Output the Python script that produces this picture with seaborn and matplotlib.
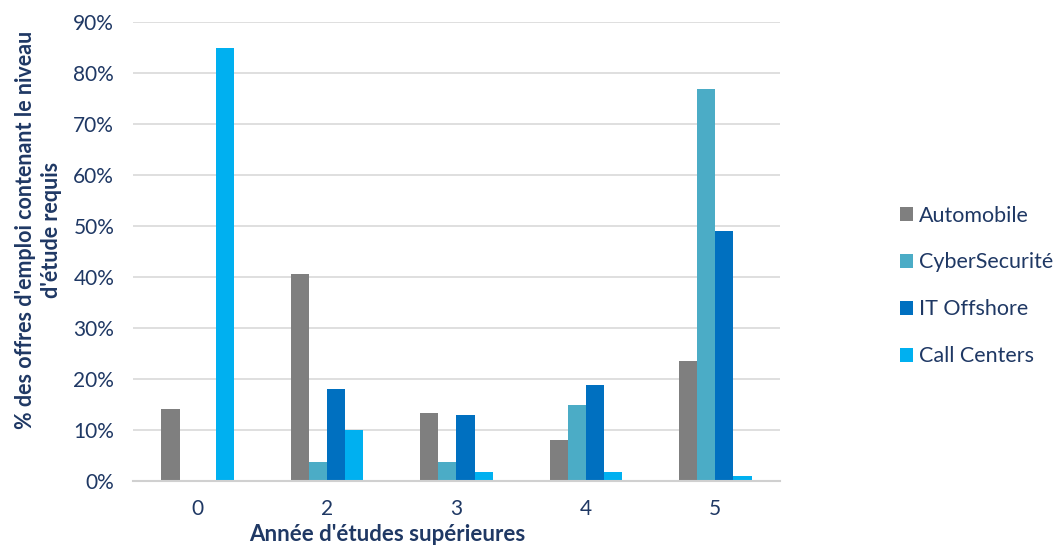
import matplotlib
matplotlib.use("Agg")
import matplotlib.pyplot as plt
import pandas as pd
import seaborn as sns
from matplotlib.ticker import PercentFormatter

# Data
years = ["0", "2", "3", "4", "5"]
sectors = ["Automobile", "CyberSecurité", "IT Offshore", "Call Centers"]
automobile = [14.2, 40.6, 13.4, 8.0, 23.5]
cybersecurite = [0.0, 3.8, 3.8, 14.9, 76.9]
it_offshore = [0.0, 18.0, 13.0, 18.9, 49.0]
call_centers = [84.9, 10.0, 1.8, 1.8, 0.9]
y_ticks = [0, 10, 20, 30, 40, 50, 60, 70, 80, 90]

colors = ["#7F7F7F", "#4BACC6", "#0070C0", "#00B0F0"]
navy = "#1F3864"

rows = []
for name, vals in zip(sectors, [automobile, cybersecurite, it_offshore, call_centers]):
    for yr, v in zip(years, vals):
        rows.append({"Année": yr, "Secteur": name, "Valeur": v})
df = pd.DataFrame(rows)

sns.set_theme(style="white")
plt.rcParams["font.family"] = ["Lato", "DejaVu Sans"]

fig = plt.figure(figsize=(10.62, 5.47), dpi=100)
ax = fig.add_axes([133 / 1062, 1 - 481 / 547, (780 - 133) / 1062, (481 - 22) / 547])

sns.barplot(data=df, x="Année", y="Valeur", hue="Secteur", order=years,
            hue_order=sectors, palette=colors, width=0.56, gap=0,
            saturation=1, ax=ax, edgecolor="none", linewidth=0)

ax.set_ylim(0, 90)
ax.set_xlim(-0.5, 4.5)
ax.set_yticks(y_ticks)
ax.yaxis.set_major_formatter(PercentFormatter(decimals=0))
ax.yaxis.grid(True, color="#D9D9D9", linewidth=1.2)
ax.set_axisbelow(True)
for side in ["top", "right", "left"]:
    ax.spines[side].set_visible(False)
ax.spines["bottom"].set_color("#D0D0D0")
ax.spines["bottom"].set_linewidth(1.5)
ax.tick_params(axis="both", length=0, labelsize=15, colors=navy)
ax.tick_params(axis="x", pad=13)
ax.tick_params(axis="y", pad=13.5)

ax.set_ylabel("% des offres d'emploi contenant le niveau\nd'étude requis",
              fontsize=15.5, fontweight="bold", color=navy, labelpad=10,
              linespacing=1.3)
ax.yaxis.set_label_coords(-0.11, 0.547)
ax.set_xlabel("Année d'études supérieures", fontsize=16, fontweight="bold",
              color=navy, labelpad=0)
ax.xaxis.set_label_coords(0.393, -0.094)

leg = ax.legend(loc="center left", bbox_to_anchor=(1.155, 0.425), frameon=False,
                fontsize=15.5, labelspacing=1.25, handlelength=0.6,
                handleheight=0.6, handletextpad=0.3, labelcolor=navy)

fig.savefig("out.png", dpi=100, facecolor="white")
